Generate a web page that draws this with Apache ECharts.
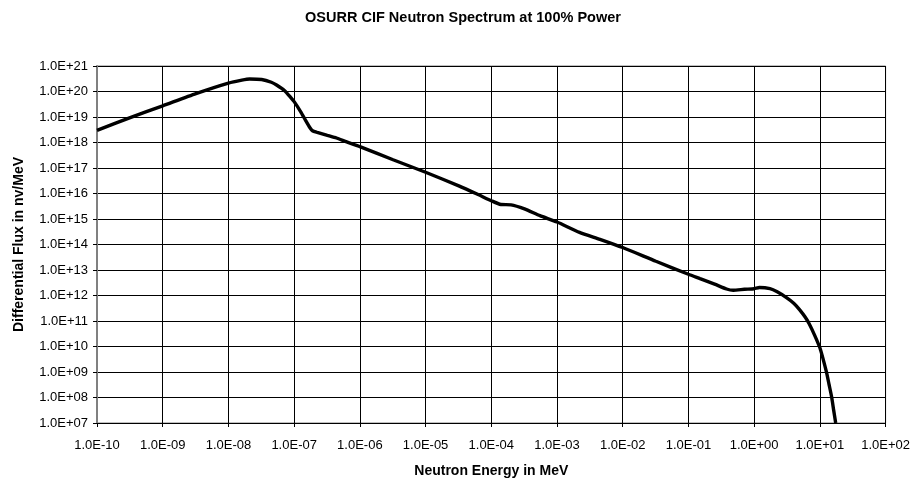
<!DOCTYPE html>
<html>
<head>
<meta charset="utf-8">
<script src="https://cdn.jsdelivr.net/npm/echarts@6/dist/echarts.min.js"></script>
<style>
  html, body { margin: 0; padding: 0; background: #fff; }
  #chart { width: 913px; height: 483px; }
</style>
</head>
<body>
<div id="chart"></div>
<script>
// Neutron energy (MeV)
var energy = [
  1.0e-10, 3.2e-10, 1.0e-9, 3.2e-9,
  1.0e-8, 1.6e-8, 2.1e-8, 3.2e-8, 4.5e-8, 5.4e-8, 7.1e-8, 8.9e-8,
  1.0e-7, 1.26e-7, 1.5e-7, 1.74e-7, 1.9e-7, 2.24e-7, 3.2e-7, 4.4e-7,
  6.3e-7, 1.0e-6, 3.2e-6, 1.0e-5, 3.2e-5, 6.3e-5, 1.0e-4, 1.4e-4,
  2.0e-4, 3.2e-4, 5.5e-4, 1.0e-3, 2.2e-3, 4.5e-3, 1.0e-2, 3.2e-2,
  0.10, 0.15, 0.25, 0.38, 0.48, 0.71, 1.0, 1.2,
  1.74, 2.24, 3.1, 4.0, 4.9, 6.0, 6.9, 8.3,
  10.0, 11.2, 12.6, 13.8, 15.1, 16.2, 17.4
];

// Differential flux (n/cm^2/s per MeV)
var flux = [
  3.0e18, 9.5e18, 2.75e19, 8.3e19,
  2.15e20, 2.8e20, 3.1e20, 2.95e20, 2.3e20, 1.8e20, 1.1e20, 5.8e19,
  4.0e19, 1.6e19, 7.2e18, 3.8e18, 2.9e18, 2.5e18, 1.9e18, 1.5e18,
  1.05e18, 6.9e17, 2.1e17, 6.8e16, 2.0e16, 9.1e15, 5.2e15, 3.7e15,
  3.6e15, 2.5e15, 1.35e15, 7.6e14, 3.0e14, 1.6e14, 7.6e13, 2.2e13,
  6.8e12, 4.6e12, 2.8e12, 1.8e12, 1.6e12, 1.75e12, 1.85e12, 2.05e12,
  1.85e12, 1.4e12, 8.3e11, 5.0e11, 2.8e11, 1.4e11, 7.6e10, 2.8e10,
  8.9e9, 3.2e9, 9.8e8, 3.2e8, 1.05e8, 3.2e7, 1.0e7
];

var xRange = [1e-10, 1e2];
var yRange = [1e7, 1e21];

var titleText = 'OSURR CIF Neutron Spectrum at 100% Power';
var xTitle = 'Neutron Energy in MeV';
var yTitle = 'Differential Flux in nv/MeV';

function sciLabel(v) {
  var e = Math.round(Math.log10(v));
  var a = Math.abs(e);
  return '1.0E' + (e < 0 ? '-' : '+') + (a < 10 ? '0' + a : '' + a);
}

var points = energy.map(function (x, i) { return [x, flux[i]]; });

var FONT = '"Liberation Sans", Arial, sans-serif';

var chart = echarts.init(document.getElementById('chart'), null, { renderer: 'canvas' });
chart.setOption({
  backgroundColor: '#ffffff',
  animation: false,
  title: {
    text: titleText,
    left: 458,
    textAlign: 'center',
    top: 5,
    textStyle: { fontFamily: FONT, fontSize: 14.5, fontWeight: 'bold', color: '#000' }
  },
  grid: {
    left: 97, right: 27, top: 66, bottom: 59,
    show: true, borderColor: '#808080', borderWidth: 1, backgroundColor: '#fff'
  },
  xAxis: {
    type: 'log', logBase: 10,
    min: xRange[0], max: xRange[1], interval: 1,
    name: xTitle, nameLocation: 'middle', nameGap: 41,
    nameTextStyle: { fontFamily: FONT, fontSize: 14, fontWeight: 'bold', color: '#000' },
    axisLine: { show: true, lineStyle: { color: '#000', width: 1 } },
    axisTick: { show: true, inside: false, length: 4, lineStyle: { color: '#000' } },
    axisLabel: { formatter: sciLabel, margin: 16, fontFamily: FONT, fontSize: 13, color: '#000' },
    splitLine: { show: true, lineStyle: { color: '#000', width: 1 } },
    minorTick: { show: false }, minorSplitLine: { show: false }
  },
  yAxis: {
    type: 'log', logBase: 10,
    min: yRange[0], max: yRange[1], interval: 1,
    name: yTitle, nameLocation: 'middle', nameGap: 71, nameRotate: 90,
    nameTextStyle: { fontFamily: FONT, fontSize: 14, fontWeight: 'bold', color: '#000' },
    axisLine: { show: true, lineStyle: { color: '#808080', width: 2 } },
    axisTick: { show: true, inside: false, length: 4, lineStyle: { color: '#000' } },
    axisLabel: { formatter: sciLabel, margin: 9, fontFamily: FONT, fontSize: 13, color: '#000' },
    splitLine: { show: true, lineStyle: { color: '#000', width: 1 } },
    minorTick: { show: false }, minorSplitLine: { show: false }
  },
  series: [{
    type: 'line',
    data: points,
    showSymbol: false,
    symbol: 'none',
    smooth: 0.2,
    lineStyle: { color: '#000', width: 3.4 },
    clip: true
  }]
});
</script>
</body>
</html>
